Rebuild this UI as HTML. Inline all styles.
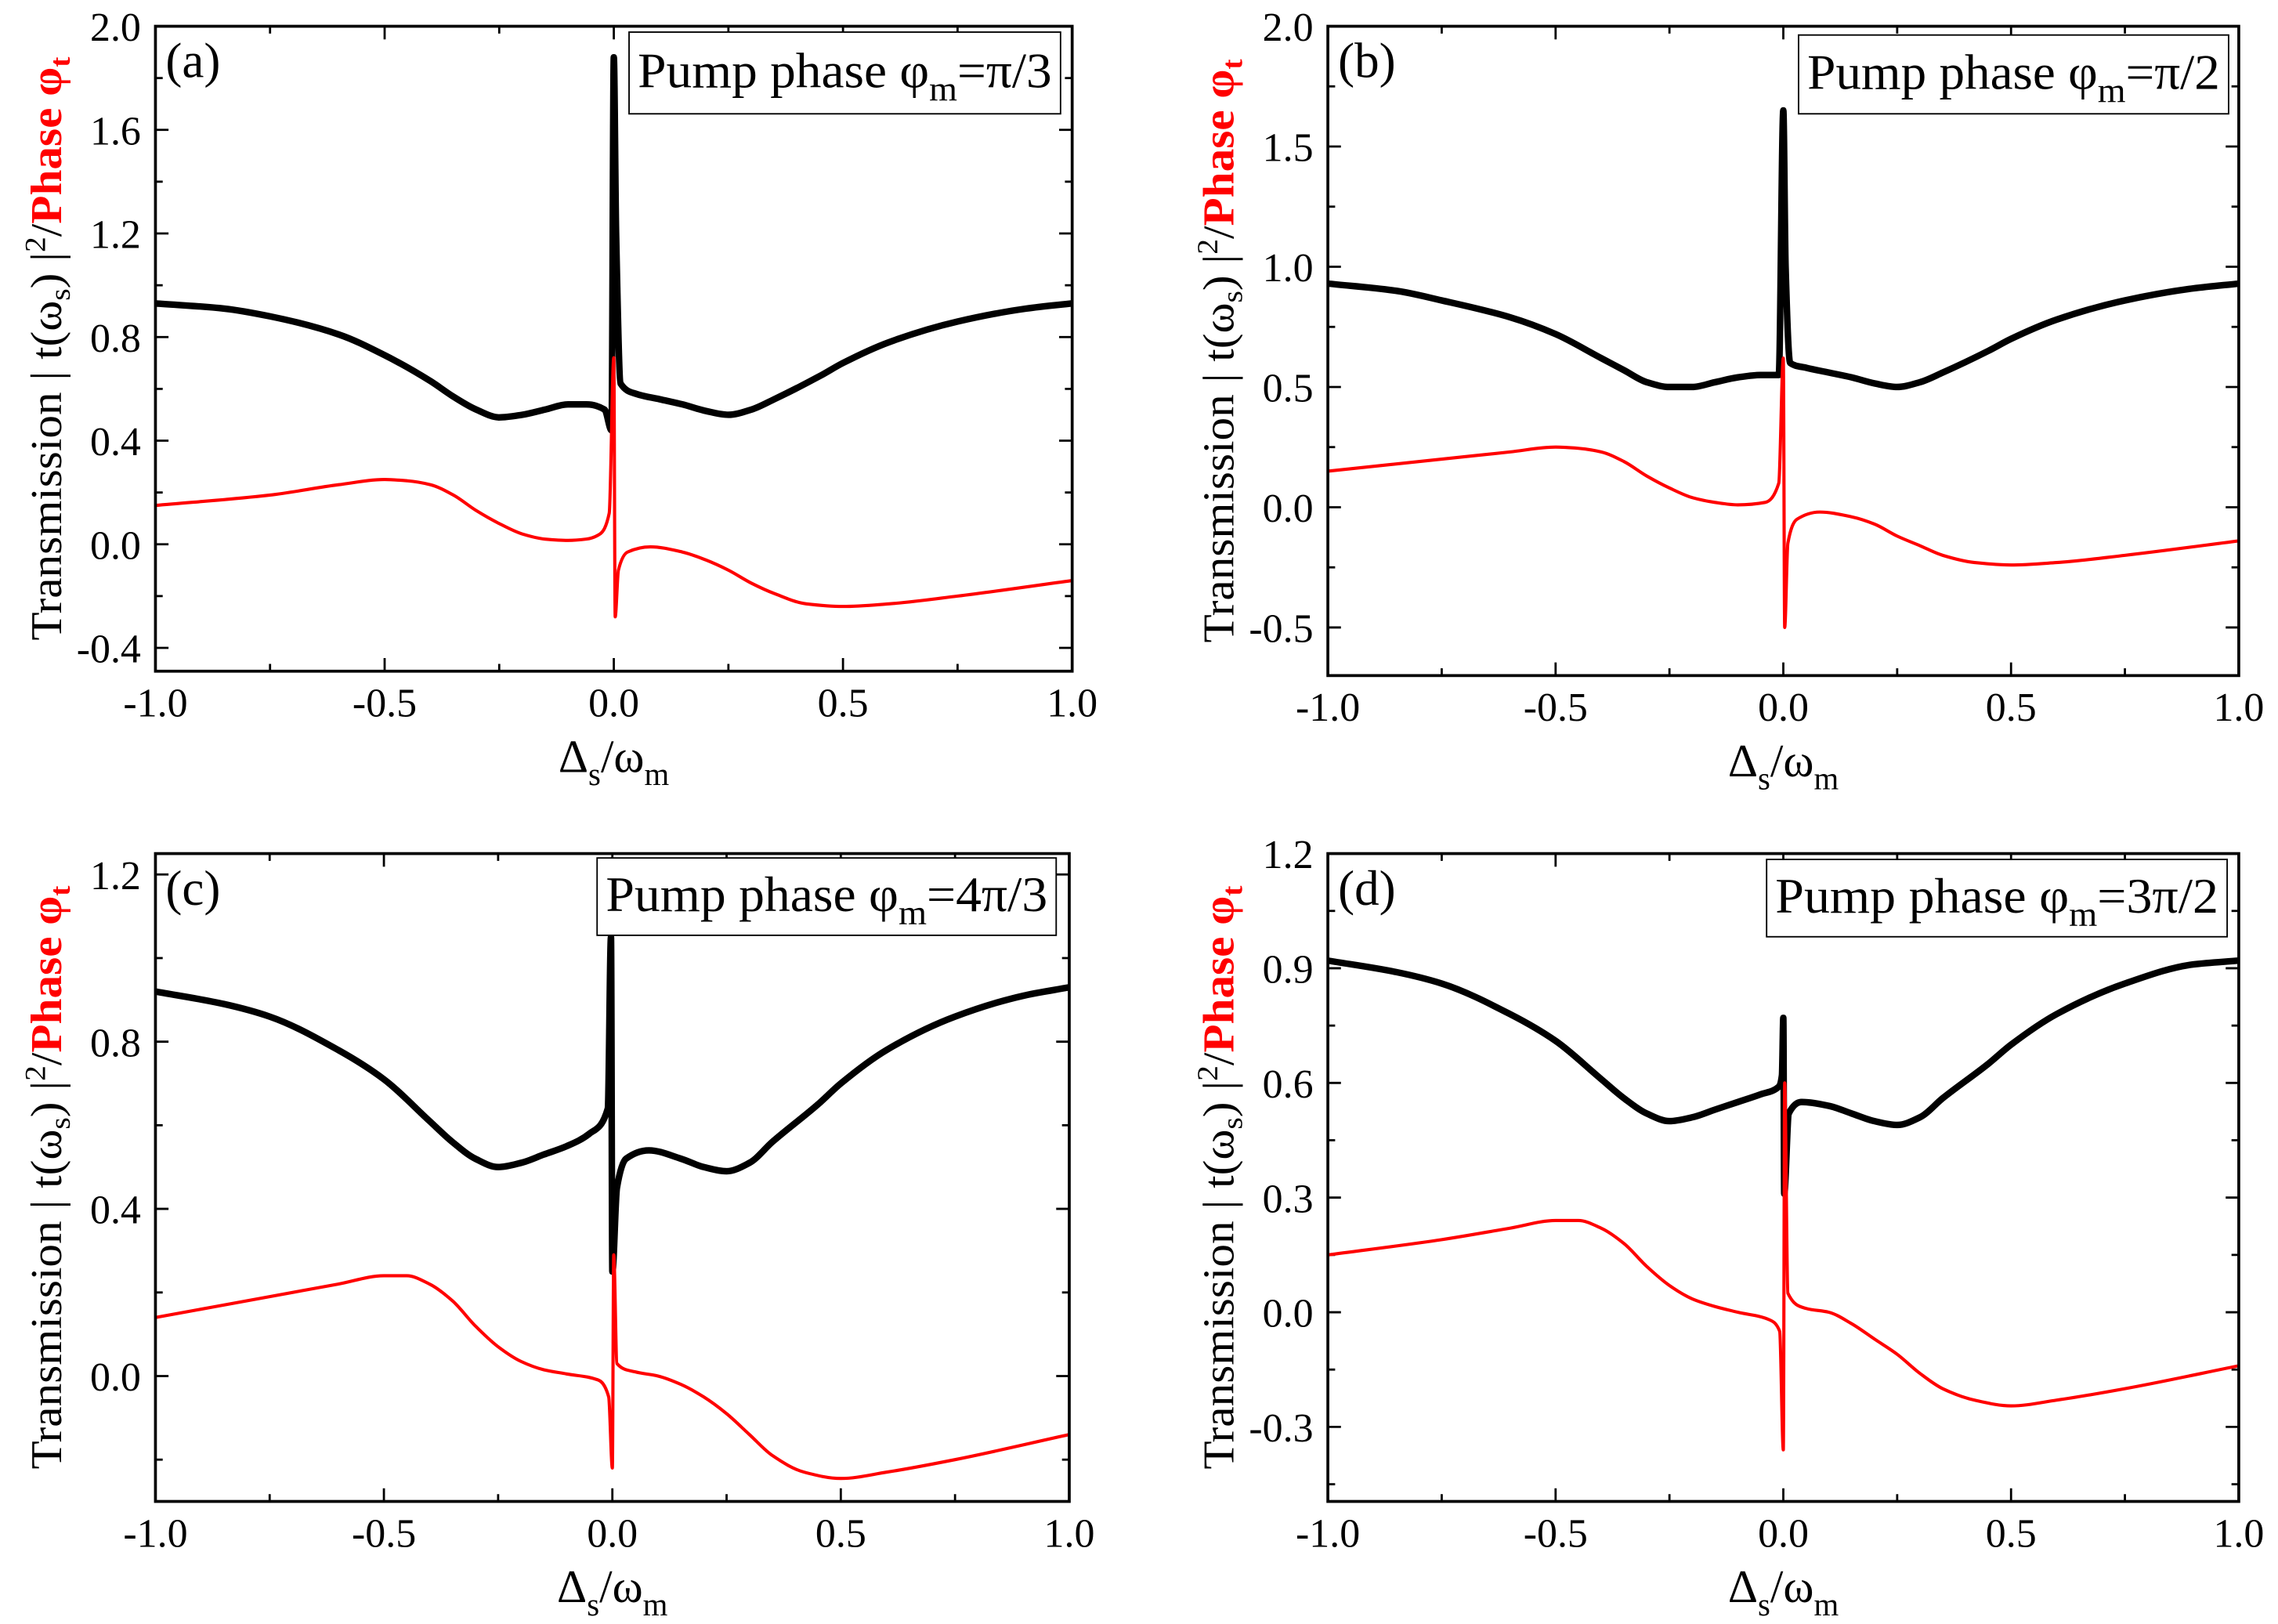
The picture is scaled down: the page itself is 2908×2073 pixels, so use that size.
<!DOCTYPE html>
<html><head><meta charset="utf-8"><style>
html,body{margin:0;padding:0;background:#fff}
svg{display:block;font-family:"Liberation Serif",serif}
</style></head><body>
<svg id="fig" width="2908" height="2073" viewBox="0 0 1568 1113" preserveAspectRatio="none" xmlns="http://www.w3.org/2000/svg"></svg>
<script>
const NS="http://www.w3.org/2000/svg";
const panelLetters=["(a)","(b)","(c)","(d)"];
const legendTexts=["π/3","π/2","4π/3","3π/2"];
const xTickLabels=["-1.0","-0.5","0.0","0.5","1.0"];
const blackXa=[-1,-0.85,-0.75,-0.6,-0.5,-0.4,-0.35,-0.3,-0.25,-0.2,-0.15,-0.1,-0.06,-0.02,-0.005,0,0.005,0.015,0.05,0.1,0.15,0.2,0.25,0.3,0.35,0.45,0.5,0.6,0.75,0.9,1];
const blackYa=[0.93,0.91,0.88,0.81,0.73,0.63,0.57,0.52,0.49,0.50,0.52,0.54,0.54,0.52,0.44,1.88,1.2,0.62,0.58,0.56,0.54,0.515,0.50,0.52,0.56,0.65,0.70,0.78,0.86,0.91,0.93];
const redXa=[-1,-0.75,-0.6,-0.5,-0.45,-0.4,-0.35,-0.3,-0.25,-0.2,-0.15,-0.1,-0.06,-0.03,-0.01,0,0.003,0.01,0.03,0.08,0.15,0.2,0.25,0.3,0.35,0.42,0.5,0.6,0.75,1];
const redYa=[0.15,0.19,0.23,0.25,0.245,0.23,0.19,0.13,0.08,0.04,0.02,0.015,0.02,0.04,0.12,0.72,-0.28,-0.1,-0.03,-0.01,-0.03,-0.06,-0.1,-0.15,-0.19,-0.23,-0.24,-0.23,-0.20,-0.14];
const blackXb=[-1,-0.85,-0.75,-0.6,-0.5,-0.4,-0.35,-0.3,-0.25,-0.2,-0.15,-0.1,-0.05,-0.01,0,0.005,0.015,0.05,0.1,0.15,0.2,0.25,0.3,0.35,0.45,0.5,0.6,0.75,0.9,1];
const blackYb=[0.93,0.90,0.86,0.79,0.72,0.62,0.57,0.52,0.50,0.50,0.52,0.54,0.55,0.55,1.65,1.0,0.60,0.58,0.56,0.54,0.515,0.50,0.52,0.56,0.65,0.70,0.78,0.86,0.91,0.93];
const redXb=[-1,-0.75,-0.6,-0.5,-0.45,-0.4,-0.35,-0.3,-0.25,-0.2,-0.15,-0.1,-0.04,-0.01,0,0.003,0.01,0.03,0.08,0.15,0.2,0.25,0.3,0.35,0.42,0.5,0.6,0.75,1];
const redYb=[0.15,0.20,0.23,0.25,0.245,0.23,0.19,0.13,0.08,0.04,0.02,0.01,0.02,0.10,0.62,-0.50,-0.15,-0.05,-0.02,-0.04,-0.07,-0.12,-0.16,-0.20,-0.23,-0.24,-0.23,-0.20,-0.14];
const blackXc=[-1,-0.85,-0.75,-0.6,-0.5,-0.4,-0.35,-0.3,-0.25,-0.2,-0.15,-0.1,-0.05,-0.01,-0.003,0,0.01,0.03,0.08,0.15,0.2,0.25,0.3,0.35,0.45,0.5,0.6,0.75,0.9,1];
const blackYc=[0.92,0.89,0.86,0.78,0.71,0.61,0.56,0.52,0.50,0.51,0.53,0.55,0.58,0.64,1.05,0.25,0.45,0.52,0.54,0.52,0.50,0.49,0.51,0.56,0.65,0.70,0.78,0.86,0.91,0.93];
const redXc=[-1,-0.75,-0.6,-0.5,-0.45,-0.4,-0.35,-0.3,-0.25,-0.2,-0.15,-0.1,-0.03,-0.008,0,0.003,0.01,0.05,0.1,0.15,0.2,0.25,0.3,0.35,0.42,0.5,0.6,0.75,1];
const redYc=[0.14,0.19,0.22,0.24,0.24,0.22,0.18,0.12,0.07,0.035,0.015,0.005,-0.01,-0.05,-0.22,0.29,0.03,0.01,0.0,-0.02,-0.05,-0.09,-0.14,-0.19,-0.23,-0.245,-0.23,-0.20,-0.14];
const blackXd=[-1,-0.85,-0.75,-0.6,-0.5,-0.4,-0.35,-0.3,-0.25,-0.2,-0.15,-0.1,-0.05,-0.01,-0.003,0,0.002,0.012,0.04,0.1,0.15,0.2,0.25,0.3,0.35,0.45,0.5,0.6,0.75,0.9,1];
const blackYd=[0.92,0.89,0.86,0.78,0.71,0.61,0.56,0.52,0.50,0.51,0.53,0.55,0.57,0.59,0.62,0.77,0.31,0.52,0.55,0.54,0.52,0.50,0.49,0.51,0.56,0.65,0.70,0.78,0.86,0.91,0.92];
const redXd=[-1,-0.75,-0.6,-0.5,-0.45,-0.4,-0.35,-0.3,-0.25,-0.2,-0.15,-0.1,-0.03,-0.008,0,0.003,0.01,0.05,0.1,0.15,0.2,0.25,0.3,0.35,0.42,0.5,0.6,0.75,1];
const redYd=[0.15,0.19,0.22,0.24,0.24,0.22,0.18,0.12,0.07,0.035,0.015,0.0,-0.02,-0.05,-0.36,0.6,0.05,0.01,0.0,-0.03,-0.07,-0.11,-0.16,-0.20,-0.23,-0.245,-0.23,-0.20,-0.14];
const yTicksA=["-0.4","0.0","0.4","0.8","1.2","1.6","2.0"];
const yTicksB=["-0.5","0.0","0.5","1.0","1.5","2.0"];
const yTicksC=["0.0","0.4","0.8","1.2"];
const yTicksD=["-0.3","0.0","0.3","0.6","0.9","1.2"];

const panels=[
 {L:107,R:738,T:18,B:460,ymin:-0.49,ymax:2.0,ys:0.4,yt:yTicksA,bx:blackXa,by:blackYa,rx:redXa,ry:redYa,leg:[433,22,297,56]},
 {L:914,R:1541,T:18,B:463,ymin:-0.7,ymax:2.0,ys:0.5,yt:yTicksB,bx:blackXb,by:blackYb,rx:redXb,ry:redYb,leg:[1238,24,296,54]},
 {L:107,R:736,T:585,B:1029,ymin:-0.30,ymax:1.25,ys:0.4,yt:yTicksC,bx:blackXc,by:blackYc,rx:redXc,ry:redYc,leg:[411,588,316,53]},
 {L:914,R:1541,T:585,B:1029,ymin:-0.495,ymax:1.2,ys:0.3,yt:yTicksD,bx:blackXd,by:blackYd,rx:redXd,ry:redYd,leg:[1216,589,317,53]}
];
const svg=document.getElementById('fig');
function mk(tag,attrs,parent){const e=document.createElementNS(NS,tag);for(const k in attrs)e.setAttribute(k,attrs[k]);(parent||svg).appendChild(e);return e;}
function monoPath(X,Y){
 const n=X.length, d=[], m=[];
 for(let i=0;i<n-1;i++)d.push((Y[i+1]-Y[i])/(X[i+1]-X[i]));
 m[0]=d[0];m[n-1]=d[n-2];
 for(let i=1;i<n-1;i++){ if(d[i-1]*d[i]<=0)m[i]=0; else {const w1=2*(X[i+1]-X[i])+(X[i]-X[i-1]),w2=(X[i+1]-X[i])+2*(X[i]-X[i-1]);m[i]=(w1+w2)/(w1/d[i-1]+w2/d[i]);} }
 let s='M'+X[0].toFixed(2)+','+Y[0].toFixed(2);
 for(let i=0;i<n-1;i++){const h=X[i+1]-X[i];
  s+=' C'+(X[i]+h/3).toFixed(2)+','+(Y[i]+m[i]*h/3).toFixed(2)+' '+(X[i+1]-h/3).toFixed(2)+','+(Y[i+1]-m[i+1]*h/3).toFixed(2)+' '+X[i+1].toFixed(2)+','+Y[i+1].toFixed(2);}
 return s;
}
panels.forEach((p,i)=>{
 const g=mk('g',{});
 
 
 const sx=x=>p.L+(x+1)/2*(p.R-p.L);
 const sy=y=>p.B-(y-p.ymin)/(p.ymax-p.ymin)*(p.B-p.T);
 for(let k=0;k<=8;k++){const x=sx(-1+k*0.25);const len=k%2==0?9:5;
  mk('line',{x1:x,x2:x,y1:p.B,y2:p.B-len,stroke:'#000','stroke-width':1.5},g);
  mk('line',{x1:x,x2:x,y1:p.T,y2:p.T+len,stroke:'#000','stroke-width':1.5},g);}
 xTickLabels.forEach((t,k)=>{const tx=mk('text',{x:sx(-1+k*0.5),y:p.B+31,'font-size':28,'text-anchor':'middle'},g);tx.textContent=t;
  });
 const y0=parseFloat(p.yt[0]);
 for(let v=y0-p.ys;v<=p.ymax+1e-9;v+=p.ys/2){if(v<p.ymin-1e-9)continue;const y=sy(v);const major=Math.abs(Math.round((v-y0)/p.ys)*p.ys-(v-y0))<1e-6;const len=major?9:5;
  mk('line',{x1:p.L,x2:p.L+len,y1:y,y2:y,stroke:'#000','stroke-width':1.5},g);
  mk('line',{x1:p.R,x2:p.R-len,y1:y,y2:y,stroke:'#000','stroke-width':1.5},g);}
 p.yt.forEach(t=>{const tx=mk('text',{x:p.L-10,y:sy(parseFloat(t))+10,'font-size':28,'text-anchor':'end'},g);tx.textContent=t;
  });
 const cp=mk('clipPath',{id:'c'+i},g);mk('rect',{x:p.L,y:p.T,width:p.R-p.L,height:p.B-p.T},cp);
 const bl=mk('path',{d:monoPath(p.bx.map(sx),p.by.map(sy)),fill:'none',stroke:'#000','stroke-width':4.5,'stroke-linejoin':'round','clip-path':'url(#c'+i+')'},g);
 
 const rl=mk('path',{d:monoPath(p.rx.map(sx),p.ry.map(sy)),fill:'none',stroke:'#f00','stroke-width':2.2,'stroke-linejoin':'round','clip-path':'url(#c'+i+')'},g);
 
 const fr=mk('rect',{x:p.L,y:p.T,width:p.R-p.L,height:p.B-p.T,fill:'none',stroke:'#000','stroke-width':2},g);
 
 const pl=mk('text',{x:p.L+7,y:p.T+35,'font-size':34},g);pl.textContent=panelLetters[i];
 
 const [lx,ly,lw,lh]=p.leg;
 const lb=mk('rect',{x:lx,y:ly,width:lw,height:lh,fill:'#fff',stroke:'#000','stroke-width':1},g);
 
 const lt=mk('text',{x:lx+6,y:ly+lh/2+10,'font-size':34,textLength:lw-12,lengthAdjust:'spacingAndGlyphs'},g);
 lt.innerHTML='Pump phase φ<tspan font-size="24" dy="9">m</tspan><tspan dy="-9">='+legendTexts[i]+'</tspan>';
 
 const xl=mk('text',{x:(p.L+p.R)/2,y:p.B+69,'font-size':32,'text-anchor':'middle'},g);
 xl.innerHTML='Δ<tspan font-size="22" dy="9">s</tspan><tspan dy="-9">/ω</tspan><tspan font-size="22" dy="9">m</tspan>';
 
 const cx=p.L-65, cy=(p.T+p.B)/2;
 const yl=mk('text',{x:cx,y:cy,'font-size':30,'text-anchor':'middle',textLength:400,lengthAdjust:'spacingAndGlyphs',transform:'rotate(-90 '+cx+' '+cy+')'},g);
 yl.innerHTML='Transmission | t(ω<tspan font-size="20" dy="6">s</tspan><tspan dy="-6">) |</tspan><tspan font-size="20" dy="-11">2</tspan><tspan dy="11">/</tspan><tspan fill="#f00" font-weight="bold">Phase φ</tspan><tspan fill="#f00" font-weight="bold" font-size="20" dy="6">t</tspan>';
 
});
</script>
</body></html>
